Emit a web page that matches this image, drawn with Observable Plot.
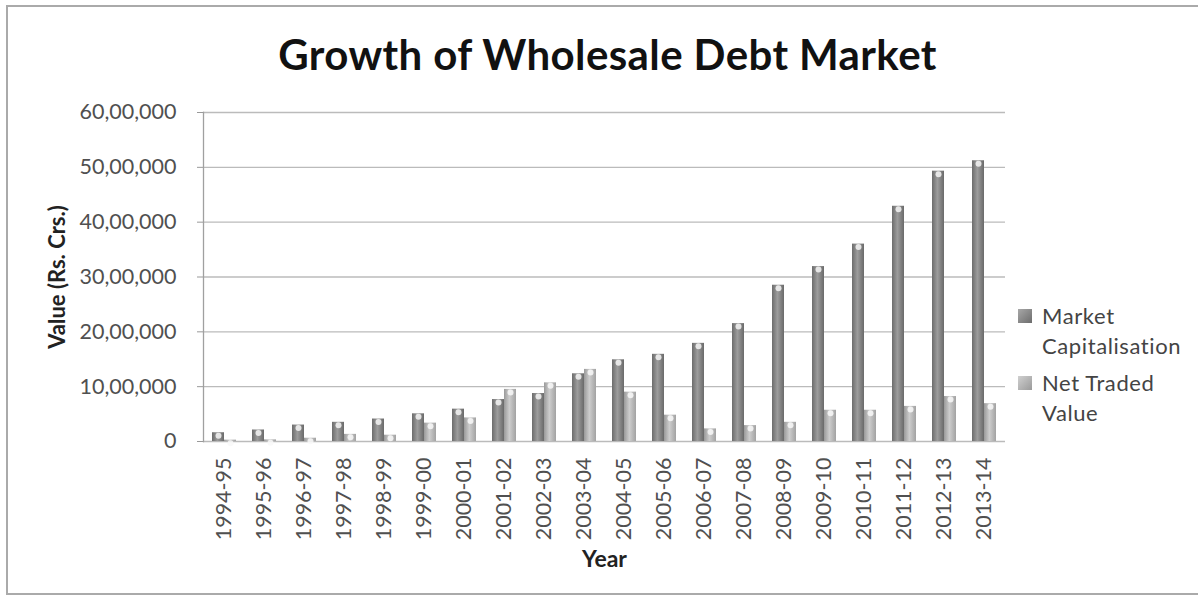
<!DOCTYPE html>
<html>
<head>
<meta charset="utf-8">
<script src="https://cdn.jsdelivr.net/npm/d3@7"></script>
<script src="https://cdn.jsdelivr.net/npm/@observablehq/plot@0.6"></script>
<style>
  body { margin: 0; background: #fff; font-family: Lato, "Open Sans", sans-serif; }
  #wrap { position: relative; width: 1198px; height: 599px; overflow: hidden; }
  #border { position: absolute; left: 6px; top: 5px; width: 1200px; height: 590px; border: 2px solid #aaaaaa; box-sizing: border-box; }
  #title { position: absolute; left: 0; top: 29px; width: 1215px; text-align: center; font-size: 42px; font-weight: bold; color: #111; line-height: 50px; letter-spacing: 0.4px; }
  #chart { position: absolute; left: 0; top: 0; }
  #legend { position: absolute; left: 1018px; top: 301px; font-size: 22px; color: #444; letter-spacing: 0.6px; }
  .item { position: relative; padding-left: 24px; line-height: 30px; margin-bottom: 7px; }
  .sw { position: absolute; left: 0; top: 8px; width: 14px; height: 14px; }
</style>
</head>
<body>
<div id="wrap">
  <div id="border"></div>
  <div id="chart"></div>
  <div id="title">Growth of Wholesale Debt Market</div>
  <div id="legend"></div>
</div>
<script>
const years = ["1994-95","1995-96","1996-97","1997-98","1998-99","1999-00","2000-01","2001-02","2002-03","2003-04","2004-05","2005-06","2006-07","2007-08","2008-09","2009-10","2010-11","2011-12","2012-13","2013-14"];
const marketCap = [160000, 210000, 300000, 350000, 410000, 505000, 590000, 765000, 875000, 1235000, 1490000, 1590000, 1790000, 2150000, 2850000, 3190000, 3600000, 4290000, 4930000, 5120000];
const netTraded = [25000, 30000, 60000, 130000, 115000, 335000, 430000, 950000, 1070000, 1315000, 900000, 480000, 230000, 290000, 350000, 570000, 570000, 640000, 820000, 690000];
const yTicks = [0, 1000000, 2000000, 3000000, 4000000, 5000000, 6000000];
const seriesNames = ["Market Capitalisation", "Net Traded Value"];
const titleText = "Growth of Wholesale Debt Market";
const xLabel = "Year";
const yLabel = "Value (Rs. Crs.)";

const data = years.map((year, i) => ({year, mc: marketCap[i], ntv: netTraded[i]}));

function indian(n) {
  if (n === 0) return "0";
  const s = String(Math.round(n));
  if (s.length <= 3) return s;
  const last3 = s.slice(-3);
  const rest = s.slice(0, -3).replace(/\B(?=(\d{2})+(?!\d))/g, ",");
  return rest + "," + last3;
}

const chart = Plot.plot({
  width: 1198,
  height: 599,
  marginLeft: 203,
  marginRight: 193,
  marginTop: 112,
  marginBottom: 158,
  style: {fontFamily: "Lato, 'Open Sans', sans-serif", background: "transparent", color: "#555"},
  x: {type: "band", domain: years, padding: 0, label: null},
  y: {domain: [0, 6000000], label: null},
  marks: [
    Plot.ruleY(yTicks, {stroke: "#bbbbbb", strokeWidth: 1.3}),
    Plot.frame({anchor: "left", stroke: "#a0a0a0", strokeWidth: 1.3}),
    Plot.axisY({ticks: yTicks, tickFormat: indian, tickSize: 6, tickPadding: 21, fontSize: 21.5, stroke: "#999", fill: "#505050", label: null, style: {letterSpacing: "0.7px"}}),
    Plot.axisX({tickRotate: -90, tickSize: 0, tickPadding: 16, fontSize: 21.5, fill: "#505050", label: null, style: {letterSpacing: "0.4px"}}),
    Plot.barY(data, {x: "year", y: "mc", fill: "url(#gMC)", insetLeft: 8, insetRight: 20}),
    Plot.barY(data, {x: "year", y: "ntv", fill: "url(#gNTV)", insetLeft: 20, insetRight: 8}),
    Plot.dot(data, {x: "year", y: "mc", dx: -6, dy: 3, r: 3, fill: "#f4f4f4", fillOpacity: 0.85}),
    Plot.dot(data, {x: "year", y: "ntv", dx: 6, dy: 3, r: 3, fill: "#f8f8f8", fillOpacity: 0.85}),
    Plot.text([xLabel], {frameAnchor: "bottom", dy: 125, text: d => d, fontSize: 23, fontWeight: "bold", fill: "#222"}),
    Plot.text([yLabel], {frameAnchor: "left", dx: -146, rotate: -90, textAnchor: "middle", text: d => d, fontSize: 22, fontWeight: "bold", fill: "#222"})
  ]
});

d3.select(chart).insert("defs", ":first-child").html(`
  <linearGradient id="gMC" x1="0" x2="1" y1="0" y2="0">
    <stop offset="0" stop-color="#6c6c6c"/>
    <stop offset="0.45" stop-color="#9c9c9c"/>
    <stop offset="1" stop-color="#6a6a6a"/>
  </linearGradient>
  <linearGradient id="gNTV" x1="0" x2="1" y1="0" y2="0">
    <stop offset="0" stop-color="#9a9a9a"/>
    <stop offset="0.45" stop-color="#cdcdcd"/>
    <stop offset="1" stop-color="#a2a2a2"/>
  </linearGradient>
`);
document.getElementById("chart").appendChild(chart);
document.getElementById("title").textContent = titleText;

const legendColors = ["linear-gradient(135deg, #a8a8a8, #6c6c6c)", "linear-gradient(135deg, #d0d0d0, #9a9a9a)"];
const legendLines = [["Market", "Capitalisation"], ["Net Traded", "Value"]];
const legend = document.getElementById("legend");
seriesNames.forEach((name, i) => {
  const item = document.createElement("div");
  item.className = "item";
  item.title = name;
  const sw = document.createElement("div");
  sw.className = "sw";
  sw.style.background = legendColors[i];
  item.appendChild(sw);
  legendLines[i].forEach(line => {
    const l = document.createElement("div");
    l.textContent = line;
    item.appendChild(l);
  });
  legend.appendChild(item);
});
</script>
</body>
</html>
